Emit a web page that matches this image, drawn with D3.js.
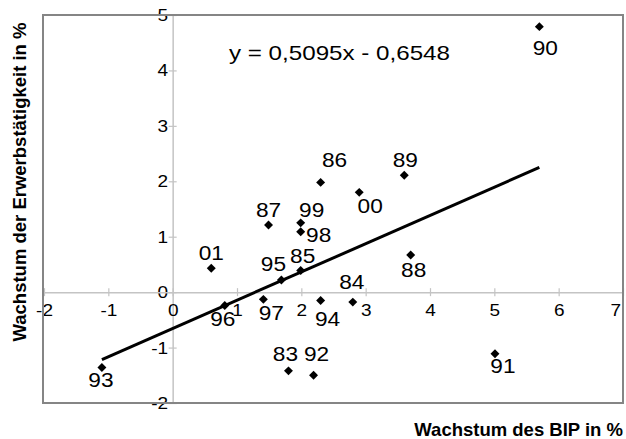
<!DOCTYPE html>
<html>
<head>
<meta charset="utf-8">
<script src="https://cdn.jsdelivr.net/npm/d3@7"></script>
<style>
body{margin:0;background:#fff;}
svg{display:block;font-family:"Liberation Sans",Arial,sans-serif;}
</style>
</head>
<body>
<script>
// Jahre (Beschriftung der Punkte)
var years = ["83","84","85","86","87","88","89","90","91","92","93","94","95","96","97","98","99","00","01"]
// Wachstum des BIP in %
var bip = [1.80,2.80,1.99,2.30,1.49,3.70,3.60,5.70,5.01,2.19,-1.10,2.30,1.69,0.81,1.41,1.99,1.99,2.90,0.60]
// Wachstum der Erwerbstaetigkeit in %
var erw = [-1.42,-0.18,0.39,1.98,1.21,0.67,2.11,4.79,-1.11,-1.50,-1.36,-0.15,0.22,-0.24,-0.13,1.09,1.25,1.80,0.43]
var xTicks = [-2,-1,0,1,2,3,4,5,6,7]
var yTicks = [-2,-1,0,1,2,3,4,5]
var slope = 0.5095
var intercept = -0.6548
var equation = "y = 0,5095x - 0,6548"

// where each year label sits relative to its point (label centre offset)
var labelOff = {
  "83":[-3,-17],"84":[-1,-21],"85":[2,-15],"86":[14,-23],"87":[0,-16],"88":[3,14],
  "89":[1,-16],"90":[6,21],"91":[8,12],"92":[3,-22],"93":[-1,12],"94":[7,18],
  "95":[-8,-16],"96":[-2,13],"97":[8,13],"98":[18,3],"99":[11,-13],"00":[11,13],"01":[0,-16]
}

var W = 626, H = 439
var svg = d3.select("body").append("svg").attr("width",W).attr("height",H)

var x = d3.scaleLinear().domain([-2,7]).range([44,623])
var y = d3.scaleLinear().domain([-2,5]).range([403,15])
var fmt = function(d){return String(d)}

//Axes through zero
var yAxis = svg.append("g")
    .attr("transform","translate("+x(0)+",0)")
    .call(d3.axisLeft(y).tickValues(yTicks).tickFormat(fmt).tickSizeInner(4).tickSizeOuter(0).tickPadding(0))
var xAxis = svg.append("g")
    .attr("transform","translate(0,"+y(0)+")")
    .call(d3.axisBottom(x).tickValues(xTicks).tickFormat(fmt).tickSizeInner(4).tickSizeOuter(0).tickPadding(8))

yAxis.selectAll("line").attr("x1",4)
xAxis.selectAll("line").attr("y1",-4)
svg.selectAll("g").attr("font-size",17).attr("font-family","Liberation Sans, Arial, sans-serif")
svg.selectAll(".domain").attr("stroke","#c4c4c4").attr("stroke-width",1.5)
svg.selectAll(".tick line").attr("stroke","#c4c4c4").attr("stroke-width",1.2)
svg.selectAll(".tick text").attr("fill","#000").attr("transform","scale(1.12,1)")
// last x label is pulled in from the edge
xAxis.selectAll(".tick text").filter(function(d){return d==7}).attr("dx",-7)

//Frame
svg.append("rect")
    .attr("x",x(-2)-1).attr("y",y(5)).attr("width",x(7)-x(-2)+1).attr("height",y(-2)-y(5))
    .attr("fill","none").attr("stroke","#858585").attr("stroke-width",2)

//Trendline
var xMin = d3.min(bip), xMax = d3.max(bip)
svg.append("path")
    .datum([xMin,xMax])
    .attr("d", d3.line().x(function(d){return x(d)}).y(function(d){return y(slope*d+intercept)}))
    .attr("stroke","#000").attr("stroke-width",3).attr("fill","none")

//Points
var sym = d3.symbol().type(d3.symbolSquare).size(40)
for (var i=0;i<years.length;i++){
  svg.append("path")
      .attr("d",sym())
      .attr("transform","translate("+x(bip[i])+","+y(erw[i])+") rotate(45)")
      .attr("fill","#000")
}

//Year labels
for (var i=0;i<years.length;i++){
  var o = labelOff[years[i]]
  svg.append("text")
      .attr("x",x(bip[i])+o[0])
      .attr("y",y(erw[i])+o[1])
      .attr("dy","0.36em")
      .attr("text-anchor","middle")
      .attr("font-size","21px")
      .attr("transform-origin", (x(bip[i])+o[0])+" "+(y(erw[i])+o[1]))
      .attr("transform","scale(1.08,1)")
      .text(years[i])
}

//Equation
svg.append("text")
    .attr("x",229).attr("y",60)
    .attr("font-size","21px")
    .attr("textLength",221).attr("lengthAdjust","spacingAndGlyphs")
    .text(equation)

//Axis titles
svg.append("text")
    .attr("x",623).attr("y",436)
    .attr("text-anchor","end")
    .attr("font-weight","bold").attr("font-size","18.5px")
    .text("Wachstum des BIP in %")
svg.append("text")
    .attr("transform","translate(26,182) rotate(-90)")
    .attr("text-anchor","middle")
    .attr("font-weight","bold").attr("font-size","18.5px")
    .text("Wachstum der Erwerbstätigkeit in %")
</script>
</body>
</html>
